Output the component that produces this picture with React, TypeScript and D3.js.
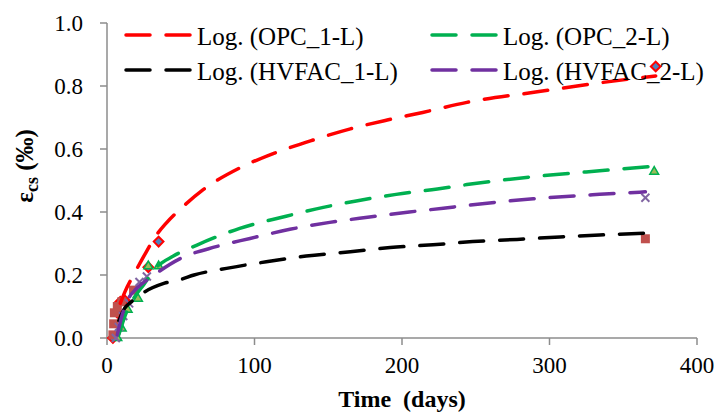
import React from 'react';
import * as d3 from 'd3';

// measured points (days, strain ‰)
const opc1Days = [4, 7, 9, 12, 28, 35, 372];
const opc1Vals = [0.0, 0.08, 0.115, 0.12, 0.225, 0.306, 0.862];
const opc2Days = [7, 10, 14, 21, 28, 35, 371];
const opc2Vals = [0.0, 0.03, 0.09, 0.125, 0.228, 0.228, 0.528];
const hv1Days = [4, 4.5, 5, 7, 10, 18, 365];
const hv1Vals = [0.01, 0.045, 0.08, 0.1, 0.115, 0.152, 0.315];
const hv2Days = [6, 8, 11, 15, 22, 27, 365];
const hv2Vals = [0.0, 0.035, 0.07, 0.11, 0.178, 0.195, 0.445];

// logarithmic trend lines
const opc1TrendDays = [9, 12, 18, 25, 34, 40, 52, 65, 90, 113, 140, 165, 190, 214, 244, 294, 334, 372];
const opc1TrendVals = [0.11, 0.145, 0.2, 0.26, 0.33, 0.364, 0.419, 0.47, 0.54, 0.586, 0.629, 0.664, 0.692, 0.716, 0.748, 0.783, 0.81, 0.832];
const opc2TrendDays = [8, 13, 18, 25, 33, 45, 61, 90, 120, 142, 169, 196, 224, 244, 289, 334, 370];
const opc2TrendVals = [0.01, 0.08, 0.125, 0.17, 0.222, 0.26, 0.295, 0.348, 0.385, 0.41, 0.435, 0.456, 0.473, 0.487, 0.512, 0.531, 0.545];
const hv1TrendDays = [8, 12, 16, 24, 39, 50, 59, 81, 108, 135, 165, 192, 221, 248, 278, 307, 334, 366];
const hv1TrendVals = [0.055, 0.095, 0.113, 0.142, 0.174, 0.186, 0.2, 0.221, 0.242, 0.26, 0.274, 0.287, 0.296, 0.306, 0.313, 0.321, 0.327, 0.333];
const hv2TrendDays = [7, 10, 14, 20, 29, 50, 74, 97, 124, 151, 178, 205, 228, 244, 289, 334, 365];
const hv2TrendVals = [0.01, 0.068, 0.12, 0.157, 0.19, 0.253, 0.29, 0.316, 0.345, 0.367, 0.384, 0.4, 0.412, 0.421, 0.442, 0.456, 0.464];

const legendLabels = ['Log. (OPC_1-L)', 'Log. (OPC_2-L)', 'Log. (HVFAC_1-L)', 'Log. (HVFAC_2-L)'];
const trendColors = ['#ff0000', '#00b050', '#000000', '#7030a0'];
const xTicks = [0, 100, 200, 300, 400];
const yTicks = [0, 0.2, 0.4, 0.6, 0.8, 1.0];

const W = 718;
const H = 414;
const FONT = '"Liberation Serif", "Times New Roman", serif';

const zip = (xs: number[], ys: number[]) => xs.map((x, i) => [x, ys[i]] as [number, number]);

export default function App() {
    const x = d3.scaleLinear().domain([0, 400]).range([107, 697]);
    const y = d3.scaleLinear().domain([0, 1]).range([338, 23]);

    const line = d3.line<[number, number]>()
        .x(d => x(d[0]))
        .y(d => y(d[1]))
        .curve(d3.curveMonotoneX);

    const trends = [
        zip(opc1TrendDays, opc1TrendVals),
        zip(opc2TrendDays, opc2TrendVals),
        zip(hv1TrendDays, hv1TrendVals),
        zip(hv2TrendDays, hv2TrendVals),
    ];

    const diamond = d3.symbol().type(d3.symbolDiamond2).size(60)();
    const triangle = d3.symbol().type(d3.symbolTriangle2).size(55)();

    const axisColor = '#8c8c8c';
    const dash = '24,16';

    // legend slots: two columns, two rows
    const legendPos = [
        { lx: 126, ly: 35 },
        { lx: 432, ly: 35 },
        { lx: 126, ly: 70 },
        { lx: 432, ly: 70 },
    ];

    return (
        <div>
            <style>{'body{margin:0}'}</style>
            <svg width={W} height={H} style={{ display: 'block', background: '#fff' }}>
                {/* axes */}
                <line x1={x(0)} x2={x(0)} y1={y(1)} y2={y(0)} stroke={axisColor} strokeWidth={1.5} />
                <line x1={x(0)} x2={x(400)} y1={y(0)} y2={y(0)} stroke={axisColor} strokeWidth={1.5} />
                {yTicks.map(t => (
                    <g key={'y' + t}>
                        <line x1={x(0) - 7} x2={x(0)} y1={y(t)} y2={y(t)} stroke={axisColor} strokeWidth={1.5} />
                        <text x={83} y={y(t)} dy="0.35em" textAnchor="end" fontFamily={FONT} fontSize={23}>
                            {t.toFixed(1)}
                        </text>
                    </g>
                ))}
                {xTicks.map(t => (
                    <g key={'x' + t}>
                        <line x1={x(t)} x2={x(t)} y1={y(0)} y2={y(0) + 7} stroke={axisColor} strokeWidth={1.5} />
                        <text x={x(t)} y={373} textAnchor="middle" fontFamily={FONT} fontSize={23}>
                            {t}
                        </text>
                    </g>
                ))}

                {/* axis titles */}
                <text x={402} y={407} textAnchor="middle" fontFamily={FONT} fontSize={24} fontWeight="bold" style={{ whiteSpace: 'pre' }}>
                    Time  (days)
                </text>
                <text transform="translate(33,166) rotate(-90)" textAnchor="middle" fontFamily={FONT} fontSize={25} fontWeight="bold" style={{ whiteSpace: 'pre' }}>
                    ε<tspan fontSize={18} dy={5}>cs</tspan><tspan dy={-5}> (‰)</tspan>
                </text>

                {/* markers */}
                {zip(opc1Days, opc1Vals).map((d, i) => (
                    <path key={'d' + i} d={diamond!} transform={`translate(${x(d[0])},${y(d[1])})`}
                        fill="#4f81bd" stroke="#ff0000" strokeWidth={2} />
                ))}
                {zip(opc2Days, opc2Vals).map((d, i) => (
                    <path key={'t' + i} d={triangle!} transform={`translate(${x(d[0])},${y(d[1])})`}
                        fill="#9bbb59" stroke="#00b050" strokeWidth={1.5} />
                ))}
                {zip(hv1Days, hv1Vals).map((d, i) => (
                    <rect key={'s' + i} x={x(d[0]) - 4.5} y={y(d[1]) - 4.5} width={9} height={9} fill="#c0504d" />
                ))}
                {zip(hv2Days, hv2Vals).map((d, i) => (
                    <g key={'x' + i} stroke="#8064a2" strokeWidth={2}>
                        <line x1={x(d[0]) - 4} x2={x(d[0]) + 4} y1={y(d[1]) - 4} y2={y(d[1]) + 4} />
                        <line x1={x(d[0]) - 4} x2={x(d[0]) + 4} y1={y(d[1]) + 4} y2={y(d[1]) - 4} />
                    </g>
                ))}

                {/* trend lines */}
                {trends.map((t, i) => (
                    <path key={'tr' + i} d={line(t) || ''} fill="none" stroke={trendColors[i]}
                        strokeWidth={3.5} strokeDasharray={dash} strokeLinecap="round" />
                ))}

                {/* legend */}
                {legendLabels.map((lab, i) => (
                    <g key={'lg' + i}>
                        <line x1={legendPos[i].lx} x2={legendPos[i].lx + 66} y1={legendPos[i].ly} y2={legendPos[i].ly}
                            stroke={trendColors[i]} strokeWidth={3.5} strokeDasharray={dash} strokeLinecap="round" />
                        <text x={legendPos[i].lx + 71} y={legendPos[i].ly + 10} fontFamily={FONT} fontSize={25}>
                            {lab}
                        </text>
                    </g>
                ))}
            </svg>
        </div>
    );
}
